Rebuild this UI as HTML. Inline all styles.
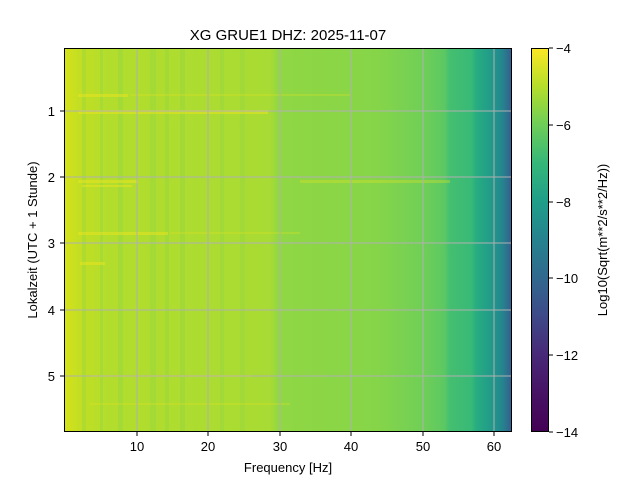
<!DOCTYPE html>
<html><head><meta charset="utf-8"><style>
body{margin:0;background:#fff;}
svg{display:block;font-family:"Liberation Sans","DejaVu Sans",sans-serif;}
</style></head><body>
<svg width="640" height="480" viewBox="0 0 640 480" xmlns="http://www.w3.org/2000/svg">
<defs>
<linearGradient id="h" x1="0" x2="1" y1="0" y2="0">
<stop offset="0" stop-color="#d8e219"/>
<stop offset="0.03" stop-color="#c4df22"/>
<stop offset="0.1" stop-color="#b2dd2d"/>
<stop offset="0.3" stop-color="#addc30"/>
<stop offset="0.46" stop-color="#a8db34"/>
<stop offset="0.48" stop-color="#90d743"/>
<stop offset="0.7" stop-color="#86d549"/>
<stop offset="0.8" stop-color="#70cf57"/>
<stop offset="0.85" stop-color="#5cc863"/>
<stop offset="0.86" stop-color="#45bf70"/>
<stop offset="0.91" stop-color="#38b977"/>
<stop offset="0.92" stop-color="#27ad81"/>
<stop offset="0.96" stop-color="#21968b"/>
<stop offset="0.98" stop-color="#25838e"/>
<stop offset="0.99" stop-color="#2e6e8e"/>
<stop offset="1" stop-color="#365d8d"/>
</linearGradient>
<linearGradient id="cb" x1="0" x2="0" y1="0" y2="1">
<stop offset="0" stop-color="#fde725"/>
<stop offset="0.1" stop-color="#b5de2b"/>
<stop offset="0.2" stop-color="#6ece58"/>
<stop offset="0.3" stop-color="#35b779"/>
<stop offset="0.4" stop-color="#1f9e89"/>
<stop offset="0.5" stop-color="#26828e"/>
<stop offset="0.6" stop-color="#31688e"/>
<stop offset="0.7" stop-color="#3e4989"/>
<stop offset="0.8" stop-color="#482878"/>
<stop offset="0.9" stop-color="#471365"/>
<stop offset="1" stop-color="#440154"/>
</linearGradient>
</defs>
<text x="288" y="40" font-size="15" text-anchor="middle">XG GRUE1  DHZ: 2025-11-07</text>
<rect x="64" y="48" width="448" height="384" fill="url(#h)"/>
<g fill="#8ed645" opacity="0.35">
<rect x="82" y="48" width="4" height="384"/><rect x="100" y="48" width="3" height="384"/>
<rect x="118" y="48" width="5" height="384"/><rect x="150" y="48" width="6" height="384"/>
<rect x="165" y="48" width="4" height="384"/><rect x="180" y="48" width="5" height="384"/>
<rect x="220" y="48" width="4" height="384"/><rect x="240" y="48" width="5" height="384"/>
</g>
<g fill="#e8e41f" opacity="0.55">
<rect x="78" y="94" width="50" height="3"/><rect x="130" y="94" width="220" height="2" opacity="0.5"/>
<rect x="78" y="110" width="190" height="4"/>
<rect x="78" y="180" width="60" height="3"/><rect x="82" y="185" width="50" height="2"/>
<rect x="300" y="180" width="150" height="3" opacity="0.6"/>
<rect x="78" y="232" width="90" height="3"/><rect x="170" y="232" width="130" height="2" opacity="0.5"/>
<rect x="80" y="262" width="25" height="3"/>
<rect x="90" y="375" width="160" height="2" opacity="0.6"/>
<rect x="90" y="403" width="200" height="2" opacity="0.5"/>
</g>
<g stroke="#b0b0b0" stroke-width="1">
<line x1="137" y1="48" x2="137" y2="432"/><line x1="208" y1="48" x2="208" y2="432"/>
<line x1="280" y1="48" x2="280" y2="432"/><line x1="351" y1="48" x2="351" y2="432"/>
<line x1="423" y1="48" x2="423" y2="432"/><line x1="494" y1="48" x2="494" y2="432"/>
<line x1="64" y1="111" x2="512" y2="111"/><line x1="64" y1="177" x2="512" y2="177"/>
<line x1="64" y1="243" x2="512" y2="243"/><line x1="64" y1="310" x2="512" y2="310"/>
<line x1="64" y1="376" x2="512" y2="376"/>
</g>
<rect x="64.5" y="48.5" width="447" height="383" fill="none" stroke="#000"/>
<g stroke="#000">
<line x1="137" y1="432" x2="137" y2="436"/><line x1="208" y1="432" x2="208" y2="436"/>
<line x1="280" y1="432" x2="280" y2="436"/><line x1="351" y1="432" x2="351" y2="436"/>
<line x1="423" y1="432" x2="423" y2="436"/><line x1="494" y1="432" x2="494" y2="436"/>
<line x1="60" y1="111" x2="64" y2="111"/><line x1="60" y1="177" x2="64" y2="177"/>
<line x1="60" y1="243" x2="64" y2="243"/><line x1="60" y1="310" x2="64" y2="310"/>
<line x1="60" y1="376" x2="64" y2="376"/>
</g>
<g font-size="13" text-anchor="middle">
<text x="137" y="451">10</text><text x="208" y="451">20</text><text x="280" y="451">30</text>
<text x="351" y="451">40</text><text x="423" y="451">50</text><text x="494" y="451">60</text>
</g>
<g font-size="13" text-anchor="end">
<text x="55" y="116">1</text><text x="55" y="182">2</text><text x="55" y="248">3</text>
<text x="55" y="315">4</text><text x="55" y="381">5</text>
</g>
<text x="288" y="472" font-size="13" text-anchor="middle">Frequency [Hz]</text>
<text transform="translate(37,240) rotate(-90)" font-size="13" text-anchor="middle">Lokalzeit (UTC + 1 Stunde)</text>
<rect x="531" y="48" width="18" height="384" fill="url(#cb)"/>
<rect x="531.5" y="48.5" width="17" height="383" fill="none" stroke="#000"/>
<g stroke="#000">
<line x1="549" y1="48" x2="553" y2="48"/><line x1="549" y1="125" x2="553" y2="125"/>
<line x1="549" y1="202" x2="553" y2="202"/><line x1="549" y1="278" x2="553" y2="278"/>
<line x1="549" y1="355" x2="553" y2="355"/><line x1="549" y1="432" x2="553" y2="432"/>
</g>
<g font-size="13">
<text x="556" y="53">−4</text><text x="556" y="130">−6</text><text x="556" y="207">−8</text>
<text x="556" y="283">−10</text><text x="556" y="360">−12</text><text x="556" y="437">−14</text>
</g>
<text transform="translate(607,240) rotate(-90)" font-size="13" text-anchor="middle">Log10(Sqrt(m**2/s**2/Hz))</text>
</svg>
</body></html>
